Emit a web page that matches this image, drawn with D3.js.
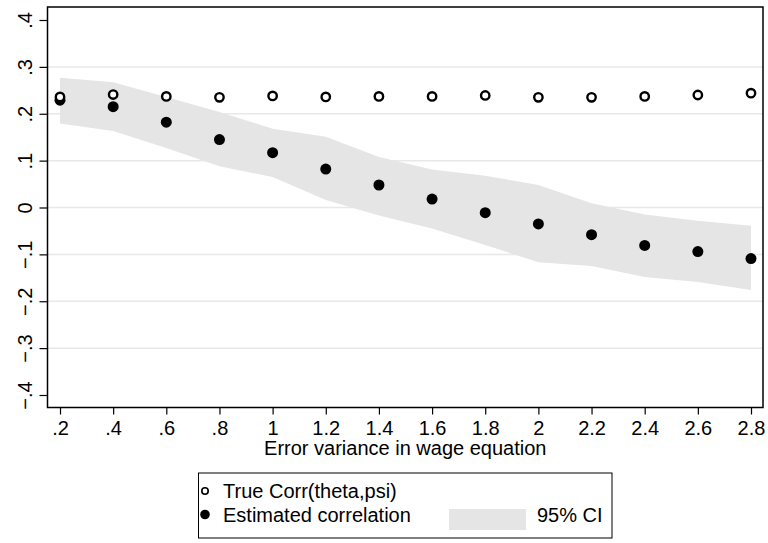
<!DOCTYPE html>
<html>
<head>
<meta charset="utf-8">
<script src="https://cdn.jsdelivr.net/npm/d3@7"></script>
<style>
  body { margin: 0; background: #fff; }
  svg text { font-family: "Liberation Sans", Arial, sans-serif; fill: #000; }
</style>
</head>
<body>
<div id="chart"></div>
<script>
// Error variance values (x)
const errorVariance = [0.2, 0.4, 0.6, 0.8, 1.0, 1.2, 1.4, 1.6, 1.8, 2.0, 2.2, 2.4, 2.6, 2.8];

// True Corr(theta,psi)
const trueCorr = [0.236, 0.241, 0.237, 0.235, 0.238, 0.236, 0.237, 0.237, 0.239, 0.235, 0.235, 0.237, 0.240, 0.244];

// Estimated correlation
const estCorr = [0.229, 0.215, 0.182, 0.145, 0.117, 0.082, 0.048, 0.018, -0.011, -0.035, -0.058, -0.081, -0.094, -0.109];

// 95% CI bounds
const ciUpper = [0.277, 0.267, 0.236, 0.204, 0.168, 0.151, 0.108, 0.081, 0.068, 0.048, 0.009, -0.015, -0.028, -0.039];
const ciLower = [0.179, 0.163, 0.127, 0.088, 0.065, 0.016, -0.017, -0.045, -0.080, -0.117, -0.125, -0.148, -0.159, -0.176];

// Tick labels
const xTicks = [0.2, 0.4, 0.6, 0.8, 1.0, 1.2, 1.4, 1.6, 1.8, 2.0, 2.2, 2.4, 2.6, 2.8];
const yTicks = [-0.4, -0.3, -0.2, -0.1, 0, 0.1, 0.2, 0.3, 0.4];

const W = 768, H = 543;
const frame = { left: 47.5, right: 763, top: 7, bottom: 407.5 };
const FONT = "20px";

// Stata style number labels: .2, -.1, 0, 1.2
const fmt = v => {
    if (Math.abs(v) < 1e-9) return "0";
    let s = String(+v.toFixed(2));
    s = s.replace(/^0\./, ".").replace(/^-0\./, "\u2212.").replace(/^-/, "\u2212");
    return s;
};

const svg = d3.select("#chart").append("svg")
    .attr("width", W)
    .attr("height", H);

const x = d3.scaleLinear().domain([0.2, 2.8]).range([60, 751]);
const y = d3.scaleLinear().domain([-0.4, 0.4]).range([395, 20]);

// Gridlines (inner ticks only)
svg.append("g")
    .selectAll("line")
    .data(yTicks.filter(t => Math.abs(t) < 0.35))
    .enter().append("line")
    .attr("x1", frame.left)
    .attr("x2", frame.right)
    .attr("y1", d => y(d))
    .attr("y2", d => y(d))
    .attr("stroke", "#e8e8e8")
    .attr("stroke-width", 1.5);

// CI band
const rows = errorVariance.map((v, i) => ({ x: v, lo: ciLower[i], hi: ciUpper[i], t: trueCorr[i], e: estCorr[i] }));

svg.append("path")
    .datum(rows)
    .attr("fill", "#e5e5e5")
    .attr("d", d3.area()
        .x(d => x(d.x))
        .y0(d => y(d.lo))
        .y1(d => y(d.hi)));

// Estimated correlation (filled)
svg.append("g")
    .selectAll("circle")
    .data(rows)
    .enter().append("circle")
    .attr("cx", d => x(d.x))
    .attr("cy", d => y(d.e))
    .attr("r", 5.5)
    .attr("fill", "#000");

// True correlation (hollow)
svg.append("g")
    .selectAll("circle")
    .data(rows)
    .enter().append("circle")
    .attr("cx", d => x(d.x))
    .attr("cy", d => y(d.t))
    .attr("r", 4.2)
    .attr("fill", "#fff")
    .attr("stroke", "#000")
    .attr("stroke-width", 2.4);

// Frame
svg.append("rect")
    .attr("x", frame.left)
    .attr("y", frame.top)
    .attr("width", frame.right - frame.left)
    .attr("height", frame.bottom - frame.top)
    .attr("fill", "none")
    .attr("stroke", "#000")
    .attr("stroke-width", 1.5);

// X axis
const xAxis = d3.axisBottom(x)
    .tickValues(xTicks)
    .tickSize(7)
    .tickPadding(6)
    .tickFormat(fmt);

const gx = svg.append("g")
    .attr("transform", `translate(0, ${frame.bottom})`)
    .call(xAxis);
gx.select(".domain").remove();
gx.selectAll(".tick line").attr("stroke", "#000").attr("stroke-width", 1.2);
gx.selectAll("text")
    .style("font-family", "Liberation Sans, Arial, sans-serif")
    .style("font-size", FONT)
    .attr("fill", "#000");

// Y axis
const yAxis = d3.axisLeft(y)
    .tickValues(yTicks)
    .tickSize(8)
    .tickPadding(0)
    .tickFormat(fmt);

const gy = svg.append("g")
    .attr("transform", `translate(${frame.left}, 0)`)
    .call(yAxis);
gy.select(".domain").remove();
gy.selectAll(".tick line").attr("stroke", "#000").attr("stroke-width", 1.2);
gy.selectAll("text")
    .style("font-family", "Liberation Sans, Arial, sans-serif")
    .style("font-size", FONT)
    .attr("fill", "#000")
    .attr("x", 0)
    .attr("dy", null)
    .attr("text-anchor", "middle")
    .attr("transform", "translate(-15.5, 0) rotate(-90)");

// X axis title
svg.append("text")
    .attr("x", (frame.left + frame.right) / 2)
    .attr("y", 455)
    .attr("text-anchor", "middle")
    .style("font-size", FONT)
    .text("Error variance in wage equation");

// Legend
const lg = svg.append("g");
lg.append("rect")
    .attr("x", 198.5)
    .attr("y", 473)
    .attr("width", 413.5)
    .attr("height", 65)
    .attr("fill", "#fff")
    .attr("stroke", "#000")
    .attr("stroke-width", 1);

lg.append("circle")
    .attr("cx", 205).attr("cy", 491)
    .attr("r", 3.2)
    .attr("fill", "#fff")
    .attr("stroke", "#000")
    .attr("stroke-width", 1.6);
lg.append("text")
    .attr("x", 223).attr("y", 498)
    .style("font-size", FONT)
    .text("True Corr(theta,psi)");

lg.append("circle")
    .attr("cx", 205).attr("cy", 514.5)
    .attr("r", 4.8)
    .attr("fill", "#000");
lg.append("text")
    .attr("x", 223).attr("y", 521.5)
    .style("font-size", FONT)
    .text("Estimated correlation");

lg.append("rect")
    .attr("x", 449).attr("y", 509)
    .attr("width", 77).attr("height", 21)
    .attr("fill", "#e5e5e5");
lg.append("text")
    .attr("x", 537).attr("y", 521.5)
    .style("font-size", FONT)
    .text("95% CI");
</script>
</body>
</html>
